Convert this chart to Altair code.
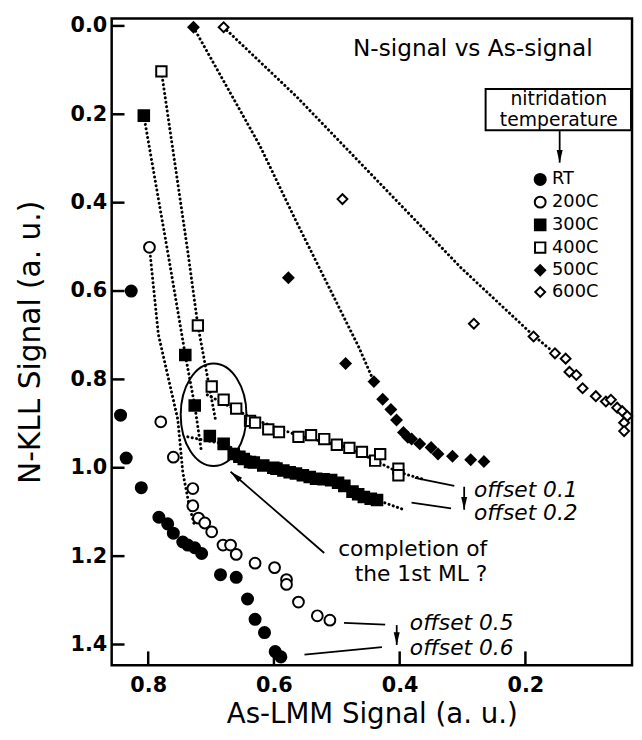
import math
import altair as alt
import pandas as pd

# ---------------- data ----------------
series_names = ["RT", "200C", "300C", "400C", "500C", "600C"]

rt_x = [0.827, 0.844, 0.835, 0.811, 0.783, 0.769, 0.760, 0.745, 0.737, 0.726, 0.715,
        0.685, 0.660, 0.642, 0.630, 0.615, 0.598, 0.589]
rt_y = [0.600, 0.881, 0.978, 1.045, 1.112, 1.127, 1.148, 1.168, 1.175, 1.181, 1.194,
        1.242, 1.248, 1.297, 1.343, 1.373, 1.416, 1.428]

c200_x = [0.798, 0.780, 0.760, 0.729, 0.729, 0.720, 0.710, 0.699, 0.681, 0.669, 0.660,
          0.630, 0.599, 0.580, 0.580, 0.561, 0.531, 0.511]
c200_y = [0.501, 0.896, 0.976, 1.047, 1.086, 1.114, 1.125, 1.145, 1.175, 1.175, 1.196,
          1.216, 1.226, 1.253, 1.264, 1.304, 1.335, 1.345]

c300_x = [0.807, 0.741, 0.726, 0.702, 0.680, 0.664, 0.655, 0.648, 0.638, 0.632, 0.617,
          0.601, 0.596, 0.585, 0.575, 0.565, 0.554, 0.543, 0.533, 0.521, 0.509, 0.498,
          0.488, 0.475, 0.466, 0.457, 0.446, 0.436]
c300_y = [0.203, 0.745, 0.859, 0.928, 0.946, 0.969, 0.975, 0.980, 0.987, 0.988, 0.995,
          1.000, 1.002, 1.006, 1.010, 1.013, 1.017, 1.021, 1.025, 1.026, 1.028, 1.034,
          1.041, 1.054, 1.060, 1.066, 1.070, 1.073]

c400_x = [0.779, 0.721, 0.699, 0.680, 0.660, 0.638, 0.630, 0.609, 0.592, 0.561, 0.541,
          0.520, 0.500, 0.480, 0.460, 0.439, 0.431, 0.402, 0.402]
c400_y = [0.103, 0.678, 0.816, 0.846, 0.866, 0.894, 0.898, 0.913, 0.919, 0.930, 0.926,
          0.935, 0.948, 0.955, 0.964, 0.984, 0.969, 1.002, 1.017]

c500_x = [0.728, 0.577, 0.486, 0.441, 0.427, 0.414, 0.405, 0.394, 0.387, 0.381, 0.368,
          0.350, 0.339, 0.316, 0.287, 0.266]
c500_y = [0.003, 0.570, 0.764, 0.805, 0.845, 0.868, 0.892, 0.920, 0.931, 0.935, 0.946,
          0.954, 0.969, 0.974, 0.982, 0.986]

c600_x = [0.680, 0.491, 0.282, 0.187, 0.153, 0.136, 0.130, 0.119, 0.109, 0.088, 0.072,
          0.064, 0.054, 0.046, 0.038, 0.043, 0.043]
c600_y = [0.003, 0.392, 0.674, 0.703, 0.741, 0.753, 0.783, 0.790, 0.820, 0.838, 0.850,
          0.846, 0.864, 0.872, 0.883, 0.898, 0.917]

# dotted guide lines drawn in the figure
fit_names = ["200C", "300C steep", "300C flat", "400C steep", "400C flat", "500C", "600C"]
fit_x = [
    [0.798, 0.784, 0.753, 0.745, 0.735, 0.726],
    [0.807, 0.769, 0.741, 0.726, 0.716],
    [0.737, 0.706, 0.680, 0.600, 0.500, 0.436, 0.395],
    [0.779, 0.737, 0.721, 0.705, 0.693],
    [0.706, 0.632, 0.560, 0.480, 0.402, 0.365],
    [0.728, 0.622, 0.564, 0.465, 0.441],
    [0.680, 0.564, 0.433, 0.302, 0.187, 0.153],
]
fit_y = [
    [0.501, 0.697, 0.890, 1.010, 1.084, 1.133],
    [0.203, 0.511, 0.745, 0.859, 0.957],
    [0.930, 0.939, 0.946, 1.000, 1.035, 1.073, 1.094],
    [0.103, 0.511, 0.678, 0.800, 0.891],
    [0.835, 0.890, 0.928, 0.955, 1.010, 1.025],
    [0.003, 0.272, 0.444, 0.727, 0.805],
    [0.003, 0.160, 0.354, 0.548, 0.701, 0.741],
]

# axis ticks
x_ticks = [0.8, 0.6, 0.4, 0.2]
y_ticks = [0.0, 0.2, 0.4, 0.6, 0.8, 1.0, 1.2, 1.4]
x_domain = [0.0304, 0.8581]
y_domain = [-0.0168, 1.4469]

# annotations
ellipse_x = [0.696]
ellipse_y = [0.880]

leader_x = [0.3759, 0.3811, 0.4885, 0.5514]
leader_y = [1.023, 1.079, 1.351, 1.423]
leader_x2 = [0.3131, 0.3183, 0.4230, 0.4282]
leader_y2 = [1.041, 1.092, 1.355, 1.406]

arrow_tail_x = [0.520, 0.2974, 0.4047, 0.1455]
arrow_tail_y = [1.193, 1.043, 1.356, 0.238]
arrow_head_x = [0.669, 0.2974, 0.4047, 0.1455]
arrow_head_y = [1.009, 1.095, 1.401, 0.3095]

title_text = ["N-signal vs As-signal"]
title_x = [0.2836]
title_y = [0.0525]

box_text = ["nitridation", "temperature"]
box_text_x = [0.1469, 0.1469]
box_text_y = [0.1654, 0.2123]
box_x = [0.2633]
box_x2 = [0.0320]
box_y = [0.143]
box_y2 = [0.236]

ml_text = ["completion of", "the 1st ML ?"]
ml_x = [0.2608, 0.2608]
ml_y = [1.1848, 1.2407]

off_text = ["offset 0.1", "offset 0.2", "offset 0.5", "offset 0.6"]
off_x = [0.2817, 0.2817, 0.3838, 0.3838]
off_y = [1.0507, 1.1028, 1.3524, 1.4083]

# ---------------- tables ----------------
rows = []
for name, xs_, ys_ in zip(series_names,
                          [rt_x, c200_x, c300_x, c400_x, c500_x, c600_x],
                          [rt_y, c200_y, c300_y, c400_y, c500_y, c600_y]):
    for a, b in zip(xs_, ys_):
        rows.append({"series": name, "x": a, "y": b})
pts = pd.DataFrame(rows)

frows = []
for name, xs_, ys_ in zip(fit_names, fit_x, fit_y):
    for i, (a, b) in enumerate(zip(xs_, ys_)):
        frows.append({"seg": name, "i": i, "x": a, "y": b})
fits = pd.DataFrame(frows)

W, H = 527, 655
px_x = W / (x_domain[1] - x_domain[0])
px_y = H / (y_domain[1] - y_domain[0])
arrows = pd.DataFrame({"x": arrow_tail_x, "y": arrow_tail_y,
                       "x2": arrow_head_x, "y2": arrow_head_y})
arrows["angle"] = [
    math.degrees(math.atan2(-(hx - tx) * px_x, -(hy - ty) * px_y)) % 360
    for tx, ty, hx, hy in zip(arrow_tail_x, arrow_tail_y, arrow_head_x, arrow_head_y)
]
leaders = pd.DataFrame({"x": leader_x, "y": leader_y, "x2": leader_x2, "y2": leader_y2})

xs = alt.Scale(domain=x_domain, reverse=True, nice=False, zero=False)
ys = alt.Scale(domain=y_domain, reverse=True, nice=False, zero=False)
FONT = "DejaVu Sans"

xaxis = alt.Axis(values=x_ticks, format=".1f", ticks=False, tickSize=0, grid=False,
                 domain=False, labelFont=FONT, labelFontWeight="bold", labelFontSize=21,
                 labelColor="black", labelPadding=10, title="As-LMM Signal (a. u.)",
                 titleFont=FONT, titleFontSize=28, titleFontWeight="normal",
                 titleColor="black", titlePadding=5)
yaxis = alt.Axis(values=y_ticks, format=".1f", ticks=False, tickSize=0, grid=False,
                 domain=False, labelFont=FONT, labelFontWeight="bold", labelFontSize=21,
                 labelColor="black", labelPadding=5, title="N-KLL Signal (a. u.)",
                 titleFont=FONT, titleFontSize=30, titleFontWeight="normal",
                 titleColor="black", titlePadding=25)


def X(f="x"):
    return alt.X(f"{f}:Q", scale=xs, axis=xaxis)


def Y(f="y"):
    return alt.Y(f"{f}:Q", scale=ys, axis=yaxis)


legend = alt.Legend(title=None, orient="none", legendX=425, legendY=154,
                    labelFont=FONT, labelFontSize=18, labelColor="black",
                    labelOffset=3, rowPadding=3, symbolStrokeWidth=2, padding=0)

shape_scale = alt.Scale(domain=series_names,
                        range=["circle", "circle", "square", "square", "diamond", "diamond"])
fill_scale = alt.Scale(domain=series_names,
                       range=["black", "white", "black", "white", "black", "white"])
stroke_scale = alt.Scale(domain=series_names, range=["black"] * 6)
size_scale = alt.Scale(domain=series_names, range=[125, 100, 100, 92, 200, 125])

lines = alt.Chart(fits).mark_line(color="black", strokeWidth=3, strokeDash=[0.1, 4.4],
                                  strokeCap="round").encode(
    x=X(), y=Y(), detail="seg:N", order="i:Q")

points = alt.Chart(pts).mark_point(filled=True, strokeWidth=2, opacity=1).encode(
    x=X(), y=Y(),
    shape=alt.Shape("series:N", scale=shape_scale, legend=legend),
    fill=alt.Fill("series:N", scale=fill_scale, legend=legend),
    stroke=alt.Stroke("series:N", scale=stroke_scale, legend=legend),
    size=alt.Size("series:N", scale=size_scale, legend=legend),
)

ellipse = alt.Chart(pd.DataFrame({"x": ellipse_x, "y": ellipse_y})).mark_point(
    shape="M -1 0 A 1 1.56 0 1 1 1 0 A 1 1.56 0 1 1 -1 0 Z", size=4436,
    filled=False, color="black", strokeWidth=2, opacity=1).encode(x=X(), y=Y())

leader_rules = alt.Chart(leaders).mark_rule(color="black", strokeWidth=1.8).encode(
    x=X(), y=Y(), x2="x2:Q", y2="y2:Q")
arrow_rules = alt.Chart(arrows).mark_rule(color="black", strokeWidth=1.8).encode(
    x=X(), y=Y(), x2="x2:Q", y2="y2:Q")
arrow_heads = alt.Chart(arrows).mark_point(
    shape="M 0 0 L 0.38 1.6 L -0.38 1.6 Z", size=256, filled=True, color="black",
    opacity=1, strokeWidth=0).encode(
    x=X("x2"), y=Y("y2"), angle=alt.Angle("angle:Q", scale=None))

box = alt.Chart(pd.DataFrame({"x": box_x, "x2": box_x2, "y": box_y, "y2": box_y2})).mark_rect(
    filled=False, color="black", strokeWidth=2).encode(x=X(), y=Y(), x2="x2:Q", y2="y2:Q")


def texts(labels, xv, yv, align, size, style="normal"):
    df = pd.DataFrame({"t": labels, "x": xv, "y": yv})
    return alt.Chart(df).mark_text(font=FONT, fontSize=size, align=align,
                                   baseline="middle", color="black",
                                   fontStyle=style).encode(x=X(), y=Y(), text="t:N")


t_title = texts(title_text, title_x, title_y, "center", 23.5)
t_box = texts(box_text, box_text_x, box_text_y, "center", 19)
t_ml = texts(ml_text, ml_x, ml_y, "right", 22)
t_off = texts(off_text, off_x, off_y, "left", 22, "italic")

ytick = alt.Chart(pd.DataFrame({"y": y_ticks})).mark_rule(color="black", strokeWidth=2.5).encode(
    y=Y(), x=alt.value(0), x2=alt.value(13))
xtick = alt.Chart(pd.DataFrame({"x": x_ticks})).mark_rule(color="black", strokeWidth=2.5).encode(
    x=X(), y=alt.value(H), y2=alt.value(H - 14))

chart = alt.layer(
    lines, points, ellipse, leader_rules, arrow_rules, arrow_heads, box,
    t_title, t_box, t_ml, t_off, ytick, xtick
).properties(
    width=W, height=H,
    autosize=alt.AutoSizeParams(type="none"),
    padding={"left": 105, "top": 6, "right": 2, "bottom": 63},
    background="white",
).configure_view(stroke="black", strokeWidth=2.5)

chart.save("out.html", embed_options={"renderer": "svg", "actions": False})
